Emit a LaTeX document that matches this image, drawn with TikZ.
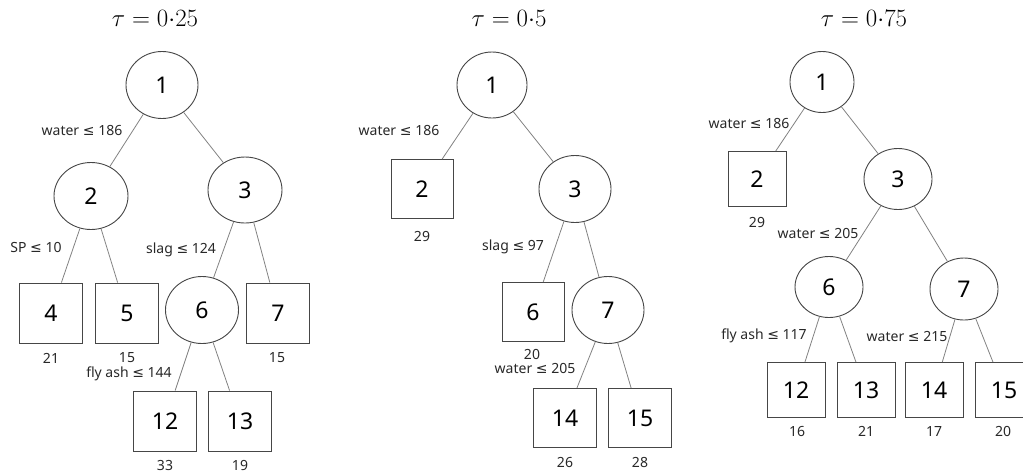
\documentclass[tikz,border=0pt]{standalone}
\usepackage{fontspec}
\setmainfont{Noto Sans}
\newfontfamily\symfam{DejaVu Sans}
\newcommand{\leqsym}{{\symfam ≤}}
\usetikzlibrary{shapes.geometric}
\definecolor{edgecol}{RGB}{130,130,130}
\definecolor{bordcol}{RGB}{70,70,70}
\definecolor{txtcol}{RGB}{40,40,40}
\tikzset{
  ell/.style={ellipse, draw=bordcol, line width=0.9pt, fill=white, inner sep=0pt, font=\fontsize{23}{25}\selectfont, text=black},
  sq/.style={rectangle, draw=bordcol, line width=0.9pt, fill=white, inner sep=0pt, font=\fontsize{23}{25}\selectfont, text=black},
  edge/.style={draw=edgecol, line width=0.8pt},
  cond/.style={font=\fontsize{14}{16}\selectfont, text=txtcol, inner sep=0pt},
  val/.style={font=\fontsize{14}{16}\selectfont, text=txtcol, inner sep=0pt},
  ttl/.style={font=\fontsize{26}{30}\selectfont, inner sep=0pt}
}
\begin{document}
\begin{tikzpicture}[x=1pt,y=-1pt]
\useasboundingbox (0,0) rectangle (1023,475);
% ---------------- tree tau = 0.25 ----------------
\node[ttl] (ta) at (155,18) {$\tau = 0{\cdot}25$};
\node[ell, minimum width=72pt, minimum height=67pt] (a1) at (162,85) {1};
\node[ell, minimum width=74pt, minimum height=67pt] (a2) at (91,196) {2};
\node[ell, minimum width=74pt, minimum height=66pt] (a3) at (245,190) {3};
\node[sq, minimum width=63pt, minimum height=60pt] (a4) at (51,313) {4};
\node[sq, minimum width=63pt, minimum height=60pt] (a5) at (127,313) {5};
\node[ell, minimum width=73pt, minimum height=67pt] (a6) at (202,310) {6};
\node[sq, minimum width=63pt, minimum height=60pt] (a7) at (278,313) {7};
\node[sq, minimum width=63pt, minimum height=60pt] (a12) at (165,421) {12};
\node[sq, minimum width=63pt, minimum height=60pt] (a13) at (240,421) {13};
\draw[edge] (a1) -- (a2);
\draw[edge] (a1) -- (a3);
\draw[edge] (a2) -- (a4);
\draw[edge] (a2) -- (a5);
\draw[edge] (a3) -- (a6);
\draw[edge] (a3) -- (a7);
\draw[edge] (a6) -- (a12);
\draw[edge] (a6) -- (a13);
\node[cond] (ac1) at (82,130) {water \leqsym{} 186};
\node[cond] (ac2) at (36,247) {SP \leqsym{} 10};
\node[cond] (ac3) at (181,250) {slag \leqsym{} 124};
\node[cond] (ac6) at (129,374) {fly ash \leqsym{} 144};
\node[val] (av4) at (51,358) {21};
\node[val] (av5) at (127,358) {15};
\node[val] (av7) at (277,358) {15};
\node[val] (av12) at (165,465) {33};
\node[val] (av13) at (240,465) {19};
% ---------------- tree tau = 0.5 ----------------
\node[ttl] (tb) at (509,18) {$\tau = 0{\cdot}5$};
\node[ell, minimum width=70pt, minimum height=66pt] (b1) at (492,85) {1};
\node[sq, minimum width=62pt, minimum height=59pt] (b2) at (422,189) {2};
\node[ell, minimum width=72pt, minimum height=67pt] (b3) at (575,189) {3};
\node[sq, minimum width=62pt, minimum height=59pt] (b6) at (533,312) {6};
\node[ell, minimum width=72pt, minimum height=67pt] (b7) at (608,310) {7};
\node[sq, minimum width=63pt, minimum height=59pt] (b14) at (565,418) {14};
\node[sq, minimum width=63pt, minimum height=59pt] (b15) at (640,418) {15};
\draw[edge] (b1) -- (b2);
\draw[edge] (b1) -- (b3);
\draw[edge] (b3) -- (b6);
\draw[edge] (b3) -- (b7);
\draw[edge] (b7) -- (b14);
\draw[edge] (b7) -- (b15);
\node[cond] (bc1) at (399,130) {water \leqsym{} 186};
\node[cond] (bc3) at (513,247) {slag \leqsym{} 97};
\node[cond] (bc7) at (535,368) {water \leqsym{} 205};
\node[val] (bv2) at (422,236) {29};
\node[val] (bv6) at (532,354) {20};
\node[val] (bv14) at (565,462) {26};
\node[val] (bv15) at (640,462) {28};
% ---------------- tree tau = 0.75 ----------------
\node[ttl] (tc) at (864,18) {$\tau = 0{\cdot}75$};
\node[ell, minimum width=64pt, minimum height=61pt] (c1) at (822,82) {1};
\node[sq, minimum width=58pt, minimum height=55pt] (c2) at (757,179) {2};
\node[ell, minimum width=68pt, minimum height=61pt] (c3) at (898,179) {3};
\node[ell, minimum width=68pt, minimum height=61pt] (c6) at (829,287) {6};
\node[ell, minimum width=68pt, minimum height=62pt] (c7) at (964,289) {7};
\node[sq, minimum width=58pt, minimum height=55pt] (c12) at (796,390) {12};
\node[sq, minimum width=58pt, minimum height=55pt] (c13) at (866,390) {13};
\node[sq, minimum width=58pt, minimum height=55pt] (c14) at (934,390) {14};
\node[sq, minimum width=58pt, minimum height=55pt] (c15) at (1004,390) {15};
\draw[edge] (c1) -- (c2);
\draw[edge] (c1) -- (c3);
\draw[edge] (c3) -- (c6);
\draw[edge] (c3) -- (c7);
\draw[edge] (c6) -- (c12);
\draw[edge] (c6) -- (c13);
\draw[edge] (c7) -- (c14);
\draw[edge] (c7) -- (c15);
\node[cond] (cc1) at (749,123) {water \leqsym{} 186};
\node[cond] (cc3) at (818,233) {water \leqsym{} 205};
\node[cond] (cc6) at (764,336) {fly ash \leqsym{} 117};
\node[cond] (cc7) at (907,336) {water \leqsym{} 215};
\node[val] (cv2) at (757,222) {29};
\node[val] (cv12) at (797,431) {16};
\node[val] (cv13) at (866,431) {21};
\node[val] (cv14) at (934,431) {17};
\node[val] (cv15) at (1003,431) {20};
\end{tikzpicture}
\end{document}
